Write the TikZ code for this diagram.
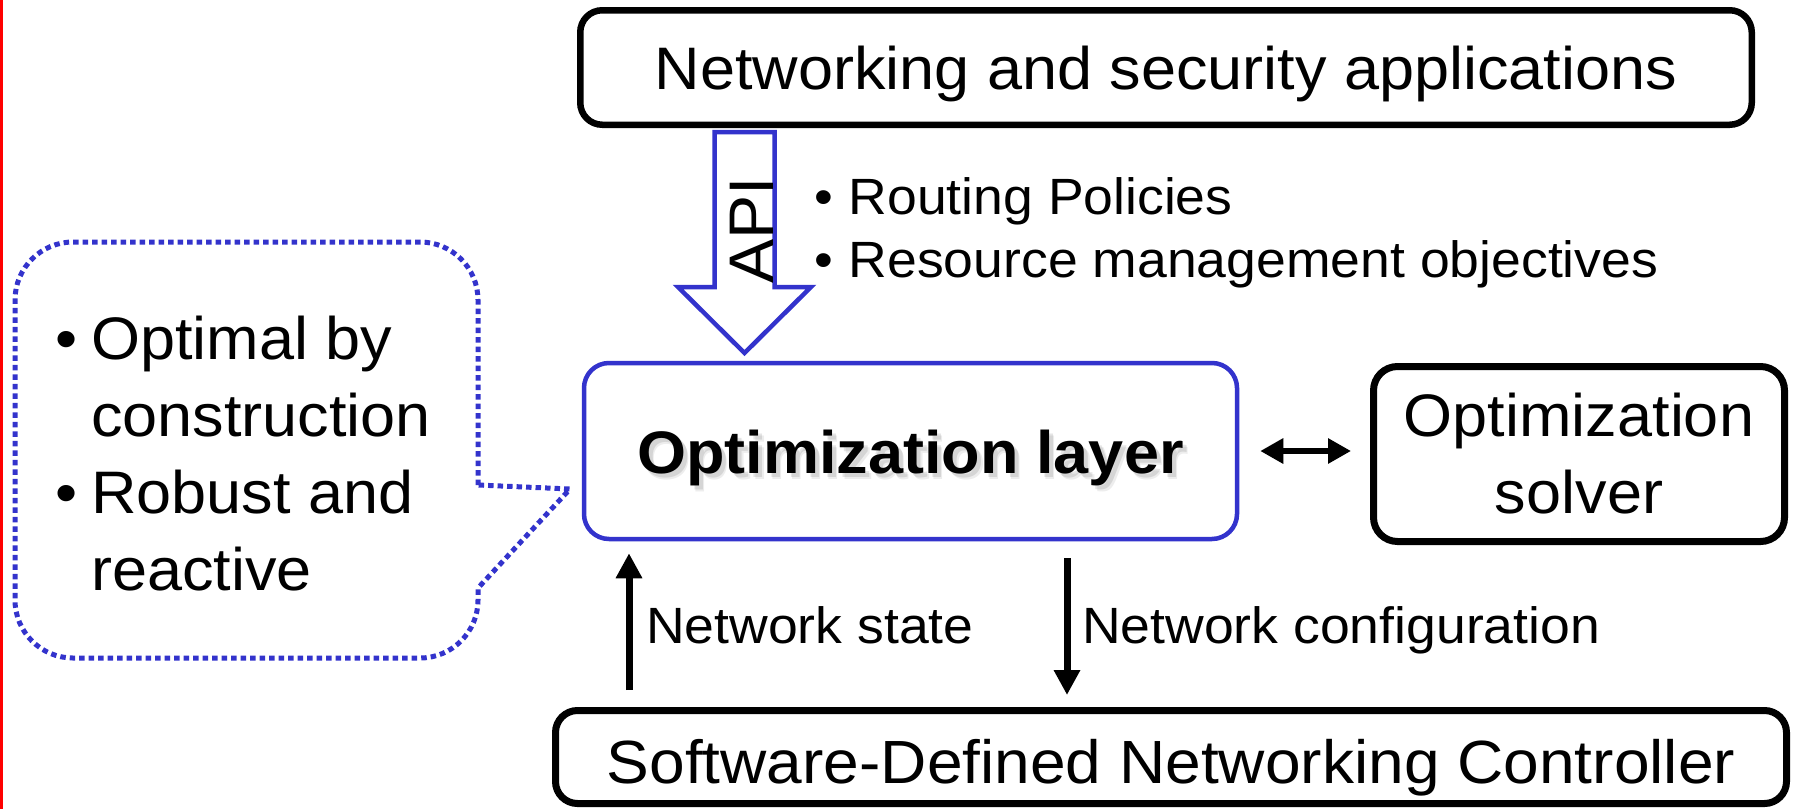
\documentclass[tikz,border=0pt]{standalone}
\usepackage{fontspec}
\setmainfont{Liberation Sans}[FakeStretch=1.05]
\usetikzlibrary{arrows.meta}
\definecolor{layerblue}{RGB}{51,51,204}

\begin{document}
\begin{tikzpicture}[x=1pt,y=-1pt,
  big/.style={font=\fontsize{60}{77}\selectfont},
  small/.style={font=\fontsize{51}{63}\selectfont},
  heading/.style={font=\fontsize{60}{77}\selectfont\bfseries, text height=44pt, text depth=0pt, inner sep=0pt},
  box/.style={draw=black, line width=6.5pt, rounded corners=22pt, inner sep=0pt, fill=white},
  flow/.style={line width=7pt, -{Triangle[length=25pt,width=25pt]}},
  duplex/.style={line width=6.5pt, {Triangle[length=23pt,width=24pt]}-{Triangle[length=23pt,width=24pt]}},
  callout/.style={draw=layerblue, line width=5pt, dash pattern=on 5.5pt off 4pt},
  label/.style={anchor=base west, inner sep=0pt},
]
\useasboundingbox (0,0) rectangle (1793,809);
\fill[red] (0,0) rectangle (2.5,809);

% application layer
\node[box, minimum width=1171.5pt, minimum height=114.5pt, big,
      text height=43pt, text depth=0pt] (apps) at (1166,67.5)
      {Networking and security applications};

% API block arrow
\draw[draw=layerblue, line width=4.5pt, fill=white, line join=miter]
  (714.5,132) -- (714.5,287) -- (678,287) -- (744.5,353) -- (811,287)
  -- (774.5,287) -- (774.5,132) -- cycle;
\node[font=\fontsize{63}{77}\selectfont, rotate=90, anchor=base, inner sep=0pt] (api) at (773,230) {API};

\node[small, anchor=west, align=left, inner sep=0pt] (policies) at (814,233)
  {\makebox[34.5pt][l]{•}Routing Policies\\\makebox[34.5pt][l]{•}Resource management objectives};

% optimization layer with soft text shadow
\node[heading, text=black, opacity=0.10] (optshadow) at (914.5,455.5) {Optimization layer};
\node[heading, text=black, opacity=0.07] (optshadowb) at (916,457) {Optimization layer};
\node[heading, draw=layerblue, line width=4.5pt, rounded corners=25pt, minimum width=653pt,
      minimum height=176pt] (opt) at (910.5,451) {Optimization layer};

% solver
\node[box, line width=7pt, rounded corners=24pt, minimum width=411pt,
      minimum height=175pt, big, align=center] (solver) at (1579,454)
      {Optimization\\solver};

% controller
\node[box, line width=7pt, minimum width=1231pt, minimum height=93pt,
      font=\fontsize{61}{77}\selectfont,
      text height=52pt, text depth=0pt] (ctrl) at (1171,757)
      {Software-Defined Networking Controller};

% connectors
\coordinate (nsx) at (629,0);
\coordinate (ncx) at (1067,0);
\draw[flow, shorten <=17pt, shorten >=12pt] (ctrl.north -| nsx) -- (opt.south -| nsx);
\draw[flow, shorten <=17pt, shorten >=12pt] (opt.south -| ncx) -- (ctrl.north -| ncx);
\draw[duplex, black, opacity=0.15, shorten <=21pt, shorten >=19pt, yshift=-5pt]
  (opt.east) -- (solver.west |- opt.east);
\draw[duplex, shorten <=21pt, shorten >=19pt] (opt.east) -- (solver.west |- opt.east);

\node[small, label] (nslabel) at (646,643) {Network state};
\node[small, label] (nclabel) at (1082,643) {Network configuration};

% callout with properties
\coordinate (calltip) at (570,489);
\draw[callout] (478,485) -- (478,300) arc[start angle=0, end angle=-90, radius=58]
  -- (73,242) arc[start angle=-90, end angle=-180, radius=58]
  -- (15,600) arc[start angle=180, end angle=90, radius=58]
  -- (420,658) arc[start angle=90, end angle=0, radius=58]
  -- (478,588) -- (calltip) -- cycle;
\node[big, anchor=west, align=left, inner sep=0pt] (props) at (55,453.5)
  {\makebox[36pt][l]{•}Optimal by\\\hspace*{36pt}construction\\\makebox[36pt][l]{•}Robust and\\\hspace*{36pt}reactive};
\end{tikzpicture}
\end{document}
